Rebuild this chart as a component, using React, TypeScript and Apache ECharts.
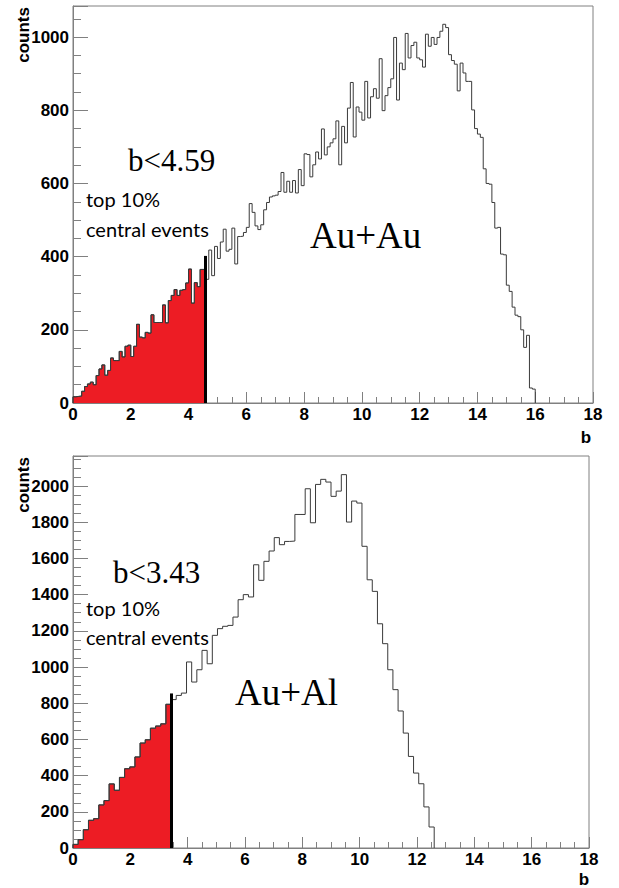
import React, { useEffect, useRef } from "react";
import * as echarts from "echarts";

// Au+Au impact-parameter histogram: 160 bins of width 0.1 starting at b = 0
const auauBinWidth = 0.1;
const auauCounts = [
  17, 18, 19, 32, 45, 52, 57, 50, 75, 93,
  104, 76, 89, 123, 116, 116, 141, 126, 155, 158,
  127, 155, 215, 180, 178, 193, 191, 241, 220, 220,
  220, 268, 219, 280, 294, 310, 294, 308, 310, 328,
  366, 273, 329, 318, 365, 365, 338, 418, 348, 428,
  395, 440, 475, 415, 420, 478, 380, 455, 456, 466,
  480, 545, 521, 484, 474, 487, 528, 548, 563, 566,
  568, 578, 630, 576, 606, 576, 608, 574, 638, 594,
  681, 679, 618, 651, 686, 667, 749, 678, 700, 711,
  722, 771, 651, 756, 711, 806, 876, 727, 809, 795,
  773, 879, 779, 837, 859, 833, 941, 799, 840, 862,
  886, 999, 828, 929, 911, 1010, 943, 977, 986, 943,
  938, 918, 1008, 975, 999, 980, 999, 1016, 1035, 1026,
  952, 936, 926, 853, 929, 902, 879, 879, 801, 750,
  735, 726, 640, 600, 598, 548, 478, 480, 407, 405,
  322, 305, 262, 240, 236, 200, 152, 185, 41, 38,
];
const auauCentralBins = 46; // bins filled red (b < 4.6)
const auauCut = [4.59, 402]; // cut position, top of the black marker

// Au+Al impact-parameter histogram: 70 bins of width 0.18 starting at b = 0
const aualBinWidth = 0.18;
const aualCounts = [
  20, 46, 101, 153, 162, 238, 262, 354, 319, 390,
  438, 448, 503, 580, 598, 662, 674, 686, 794, 820,
  843, 856, 1028, 917, 985, 1092, 1018, 1175, 1212, 1225,
  1230, 1276, 1372, 1400, 1387, 1565, 1479, 1584, 1641, 1715,
  1676, 1694, 1696, 1843, 1843, 1985, 1797, 2009, 2037, 2022,
  1943, 1972, 2063, 1801, 1917, 1906, 1667, 1482, 1418, 1239,
  1129, 985, 875, 757, 635, 506, 414, 355, 227, 116,
];
const aualCentralBins = 19;
const aualCut = [3.43, 854];

const xTicks = [0, 18, 2]; // min, max, interval
const auauY = [0, 1085, 200];
const aualY = [0, 2166, 200];

const RED = "#ed1c24";
const LINE = "#3a3a3a";
const FRAME = "#808080";

function stepPoints(counts: number[], w: number, n: number = counts.length) {
  const pts: number[][] = [[0, 0]];
  for (let i = 0; i < n; i++) pts.push([+(i * w).toFixed(4), counts[i]]);
  pts.push([+(n * w).toFixed(4), counts[n - 1]]);
  pts.push([+(n * w).toFixed(4), 0]);
  return pts;
}

const labelFont = {
  color: "#000",
  fontFamily: "Liberation Sans",
  fontWeight: "bold" as const,
  fontSize: 17,
  formatter: (v: number) => String(v),
};

function xAxis(gridIndex: number) {
  return {
    type: "value",
    gridIndex,
    min: xTicks[0],
    max: xTicks[1],
    interval: xTicks[2],
    axisLine: { show: true, onZero: false, lineStyle: { color: FRAME, width: 1 } },
    axisTick: { show: true, inside: true, length: 11, lineStyle: { color: FRAME } },
    minorTick: { show: true, splitNumber: 4, length: 6, lineStyle: { color: FRAME } },
    splitLine: { show: false },
    minorSplitLine: { show: false },
    axisLabel: { ...labelFont, margin: 3 },
  };
}

function yAxis(gridIndex: number, y: number[]) {
  return {
    type: "value",
    gridIndex,
    min: y[0],
    max: y[1],
    interval: y[2],
    axisLine: { show: true, onZero: false, lineStyle: { color: FRAME, width: 1 } },
    axisTick: { show: true, inside: true, length: 15, lineStyle: { color: FRAME } },
    minorTick: { show: true, splitNumber: 4, length: 8, lineStyle: { color: FRAME } },
    splitLine: { show: false },
    minorSplitLine: { show: false },
    axisLabel: { ...labelFont, margin: 4, showMaxLabel: false },
  };
}

function histSeries(idx: number, counts: number[], w: number, central: number, cut: number[]) {
  return [
    {
      type: "line",
      xAxisIndex: idx,
      yAxisIndex: idx,
      data: stepPoints(counts, w, central),
      step: "end",
      symbol: "none",
      z: 2,
      lineStyle: { color: LINE, width: 1 },
      areaStyle: { color: RED, opacity: 1 },
      markLine: {
        silent: true,
        symbol: ["none", "none"],
        label: { show: false },
        lineStyle: { color: "#000", width: 3, type: "solid" },
        data: [[{ coord: [cut[0], 0] }, { coord: [cut[0], cut[1]] }]],
      },
    },
    {
      type: "line",
      xAxisIndex: idx,
      yAxisIndex: idx,
      data: stepPoints(counts, w),
      step: "end",
      symbol: "none",
      z: 3,
      lineStyle: { color: LINE, width: 1 },
    },
  ];
}

function txt(text: string, x: number, y: number, font: any, align = "left", rotation = 0) {
  return {
    type: "text",
    x,
    y,
    rotation,
    z: 10,
    style: { text, align, verticalAlign: "middle", fill: "#000", ...font },
  };
}

const serif = { fontFamily: "Liberation Serif", fontSize: 31 };
const big = { fontFamily: "Liberation Serif", fontSize: 37 };
const note = { fontFamily: "Lato", fontSize: 20 };
const title = { fontFamily: "Liberation Sans", fontWeight: "bold", fontSize: 17 };

export default function App() {
  const ref = useRef<HTMLDivElement>(null);
  useEffect(() => {
    document.body.style.margin = "0";
    const chart = echarts.init(ref.current!, null, { renderer: "svg" });
    chart.setOption({
      animation: false,
      backgroundColor: "#fff",
      grid: [
        { left: 73, top: 6, width: 520, height: 397, show: true, borderColor: FRAME, borderWidth: 1, backgroundColor: "transparent" },
        { left: 73, top: 456, width: 516, height: 392, show: true, borderColor: FRAME, borderWidth: 1, backgroundColor: "transparent" },
      ],
      xAxis: [xAxis(0), xAxis(1)],
      yAxis: [yAxis(0, auauY), yAxis(1, aualY)],
      series: [
        ...histSeries(0, auauCounts, auauBinWidth, auauCentralBins, auauCut),
        ...histSeries(1, aualCounts, aualBinWidth, aualCentralBins, aualCut),
      ],
      graphic: [
        txt("counts", 23.5, 7, title, "right", Math.PI / 2),
        txt("b", 586, 437, title, "center"),
        txt("b<4.59", 128, 160, serif),
        txt("top 10%", 86, 199, note),
        txt("central events", 86, 228.5, note),
        txt("Au+Au", 310, 235.5, big),
        txt("counts", 23.5, 457, title, "right", Math.PI / 2),
        txt("b", 584, 879, title, "center"),
        txt("b<3.43", 113, 572.5, serif),
        txt("top 10%", 86, 608, note),
        txt("central events", 86, 636.5, note),
        txt("Au+Al", 235, 692.5, big),
      ],
    });
    return () => chart.dispose();
  }, []);
  return <div ref={ref} style={{ width: 619, height: 888 }} />;
}
